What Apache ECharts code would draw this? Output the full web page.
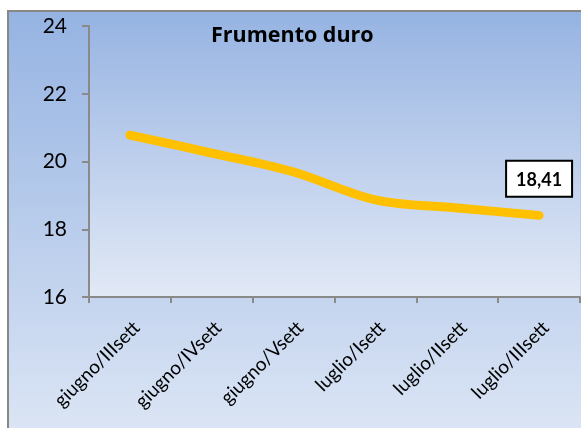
<!DOCTYPE html>
<html>
<head>
<meta charset="utf-8">
<script src="https://cdn.jsdelivr.net/npm/echarts@6/dist/echarts.min.js"></script>
<style>
html,body{margin:0;padding:0;background:#fff;}
#c{width:581px;height:428px;}
</style>
</head>
<body>
<div id="c"></div>
<script>
var categories = ['giugno/IIIsett','giugno/IVsett','giugno/Vsett','luglio/Isett','luglio/IIsett','luglio/IIIsett'];
var values = [20.78, 20.25, 19.69, 18.87, 18.63, 18.41];
var yTicks = [16, 18, 20, 22, 24];
var titleText = 'Frumento duro';

var chart = echarts.init(document.getElementById('c'));
var data = values.map(function(v, i){
  if (i === values.length - 1) {
    return {value: v, label: {show: true}};
  }
  return v;
});
chart.setOption({
  animation: false,
  textStyle: {fontFamily: 'Lato'},
  graphic: [{
    type: 'rect',
    z: -100,
    shape: {x: 8, y: 11, width: 590, height: 430},
    style: {
      fill: {type:'linear', x:0, y:0, x2:0, y2:1, colorStops:[{offset:0,color:'#95b3e2'},{offset:1,color:'#dde6f5'}]},
      stroke: '#878787', lineWidth: 2
    }
  }],
  title: {
    text: titleText,
    left: 206, top: 20,
    textStyle: {fontFamily: 'Open Sans', fontWeight: 'bold', fontSize: 21.5, color: '#000'}
  },
  grid: {
    left: 89, right: 1, top: 26, bottom: 131,
    show: true, borderWidth: 0,
    backgroundColor: {type:'linear', x:0, y:0, x2:0, y2:1, colorStops:[{offset:0,color:'#9ab6e3'},{offset:1,color:'#e2e9f6'}]}
  },
  xAxis: {
    type: 'category',
    data: categories,
    boundaryGap: true,
    axisLine: {lineStyle: {color: '#8a8a8a', width: 2}},
    axisTick: {show: true, length: 6, lineStyle: {color: '#8a8a8a', width: 2}},
    axisLabel: {rotate: 45, fontSize: 19, color: '#000', margin: 21, interval: 0, verticalAlign: 'top', fontFamily: 'Lato'},
    splitLine: {show: false}
  },
  yAxis: {
    type: 'value',
    min: yTicks[0], max: yTicks[yTicks.length-1], interval: 2,
    axisLine: {show: true, lineStyle: {color: '#8a8a8a', width: 2}},
    axisTick: {show: true, length: 7, lineStyle: {color: '#8a8a8a', width: 2}},
    axisLabel: {fontSize: 21, color: '#000', margin: 22, fontFamily: 'Lato'},
    splitLine: {show: false}
  },
  series: [{
    type: 'line',
    data: data,
    smooth: 0.35,
    showSymbol: true,
    symbol: 'circle',
    symbolSize: 1,
    itemStyle: {color: 'rgba(0,0,0,0)'},
    lineStyle: {color: '#ffc000', width: 9, cap: 'round', join: 'round'},
    label: {
      show: false,
      position: 'top',
      distance: 19,
      formatter: function(p){ return p.value.toFixed(2).replace('.', ','); },
      fontFamily: 'Lato', fontWeight: 'bold', fontSize: 18, color: '#000',
      backgroundColor: '#fff', borderColor: '#000', borderWidth: 2,
      padding: [9, 9, 7, 9]
    }
  }]
});
</script>
</body>
</html>
